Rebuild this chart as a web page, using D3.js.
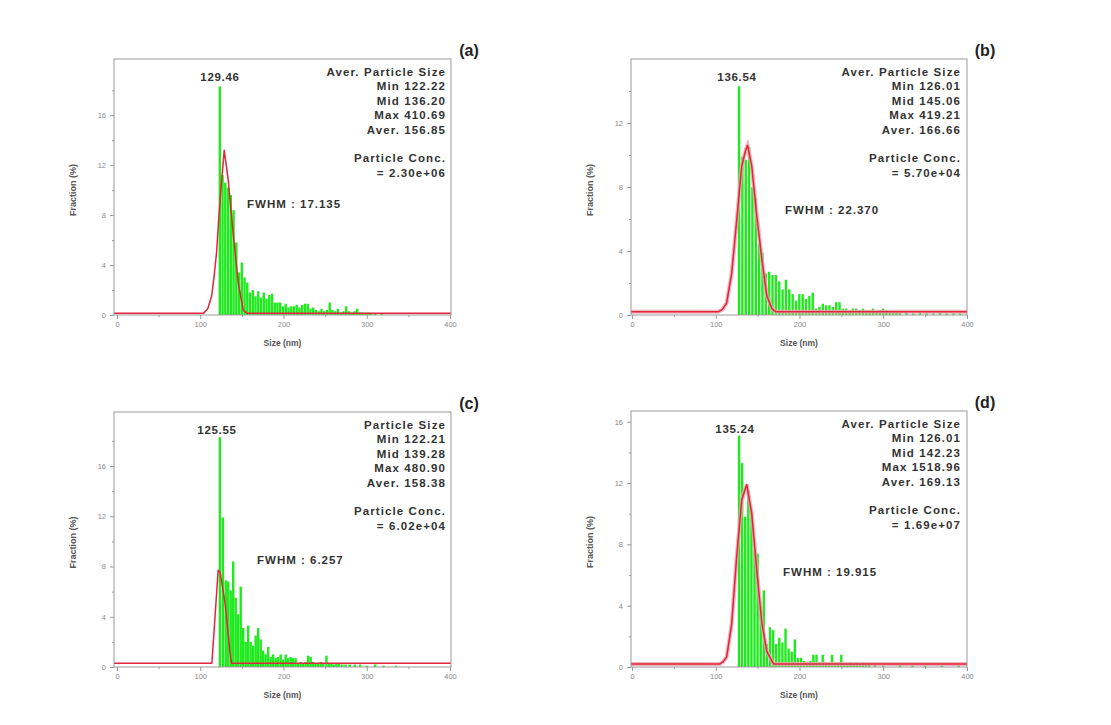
<!DOCTYPE html>
<html><head><meta charset="utf-8">
<script src="https://cdn.jsdelivr.net/npm/d3@7/dist/d3.min.js"></script>
<style>
body{margin:0;background:#fff;}
svg{display:block;}
text{font-family:"Liberation Sans",Arial,sans-serif;}
</style></head>
<body><svg id="c" width="1111" height="725"></svg>
<script>
// ---------- DATA ----------
const panelLabels = ["(a)", "(b)", "(c)", "(d)"];
const peakLabels = ["129.46", "136.54", "125.55", "135.24"];
const fwhmLabels = ["FWHM : 17.135", "FWHM : 22.370", "FWHM : 6.257", "FWHM : 19.915"];
const statsA = ["Aver. Particle Size", "Min 122.22", "Mid 136.20", "Max 410.69", "Aver. 156.85", "", "Particle Conc.", "= 2.30e+06"];
const statsB = ["Aver. Particle Size", "Min 126.01", "Mid 145.06", "Max 419.21", "Aver. 166.66", "", "Particle Conc.", "= 5.70e+04"];
const statsC = ["Particle Size", "Min 122.21", "Mid 139.28", "Max 480.90", "Aver. 158.38", "", "Particle Conc.", "= 6.02e+04"];
const statsD = ["Aver. Particle Size", "Min 126.01", "Mid 142.23", "Max 1518.96", "Aver. 169.13", "", "Particle Conc.", "= 1.69e+07"];
const xTicks = [0, 100, 200, 300, 400];
const yTicksA = [0, 4, 8, 12, 16];
const yTicksB = [0, 4, 8, 12];
const yTicksC = [0, 4, 8, 12, 16];
const yTicksD = [0, 4, 8, 12, 16];
const yMaxA = 20.5, yMaxB = 16, yMaxC = 20.3, yMaxD = 16.7;

// histogram bars: size (nm) and fraction (%)
const sizesA = [123.5,126.8,130.1,133.4,136.7,140,143.3,146.6,149.9,153.2,156.5,159.8,163.1,166.4,169.7,173,176.3,179.6,182.9,186.2,189.5,192.8,196.1,199.4,202.7,206,209.3,212.6,215.9,219.2,222.5,225.8,229.1,232.4,235.7,239,242.3,245.6,248.9,252.2,255.5,258.8,262.1,265.4,268.7,272,275.3,278.6,281.9,285.2,288.5,291.8,295.1,298.4,301.7,305,310,318];
const fracA  = [18.3,11.2,10.6,10.2,9.6,8.4,5.8,3.4,4.2,3.0,2.6,1.8,2.0,1.5,1.9,1.4,1.8,1.3,1.6,1.7,1.0,1.0,1.0,0.7,0.9,0.6,0.7,0.7,0.8,0.6,0.8,0.9,0.9,0.5,0.6,0.4,0.3,0.5,0.3,0.4,1.0,0.4,0.3,0.5,0.2,0.3,0.7,0.3,0.2,0.3,0.5,0.2,0.2,0.1,0.2,0.1,0.1,0.1];
const sizesB = [127.8,131.8,135.8,139.8,143.8,147.8,151.8,155.8,159.8,163.8,167.8,171.8,175.8,179.8,183.8,187.8,191.8,195.8,199.8,203.8,207.8,211.8,215.8,219.8,223.8,227.8,231.8,235.8,239.8,243.8,247.8,251.8,255.8,259.8,263.8,267.8,271.8,275.8,279.8,283.8,287.8,291.8,295.8,299.8,303.8,307.8,311.8,315.8,319.8,327.8,335.8,343.8,351.8,359.8,367.8,375.8,383.8,391.8];
const fracB  = [14.3,9.9,9.7,10.5,8.0,7.3,4.4,3.9,2.6,2.7,2.5,2.5,2.1,1.6,2.2,1.6,1.3,0.9,1.3,1.3,1.0,1.2,1.4,0.4,0.5,0.7,0.6,0.6,0.5,0.8,0.8,0.4,0.4,0.3,0.4,0.4,0.3,0.4,0.3,0.3,0.4,0.2,0.3,0.4,0.3,0.2,0.2,0.2,0.2,0.2,0.1,0.2,0.1,0.1,0.2,0.1,0.1,0.1];
const sizesC = [123.6,127.2,130.6,133.6,136.6,139.6,142.6,145.6,148.6,151.6,154.6,157.6,160.6,163.6,166.6,169.6,172.6,175.6,178.6,181.6,184.6,187.6,190.6,193.6,196.6,199.6,202.6,205.6,208.6,211.6,214.6,217.6,220.6,223.6,226.6,229.6,232.6,235.6,238.6,241.6,244.6,247.6,251.6,254.6,257.6,260.6,263.6,266.6,270.6,274.6,279.6,285.6,292,300,310,320,335];
const fracC  = [18.3,11.9,6.9,6.8,6.1,8.4,5.5,4.2,6.4,3.1,2.0,3.3,2.0,1.7,2.5,3.1,2.2,1.3,1.0,1.6,0.8,1.0,0.7,0.8,1.0,0.6,1.0,0.7,0.8,0.7,0.7,0.3,0.4,0.3,0.4,0.9,0.8,0.4,0.3,0.3,0.4,0.3,0.9,0.3,0.3,0.2,0.3,0.3,0.2,0.2,0.2,0.2,0.2,0.1,0.2,0.1,0.1];
const sizesD = [127.8,131.5,135.2,138.9,142.6,146.3,150,153.7,157.4,161.1,164.8,168.5,172.2,175.9,179.6,183.3,187,190.7,194.4,198.1,201.8,205.5,209.2,212.9,216.6,220.3,224,227.7,231.4,235.1,238.8,242.5,246.2,249.9,253.6,257.3,261,264.7,268.4,272.1,275.8,279.5,283.2,290,300,320,335,350,370,390];
const fracD  = [15.1,13.3,9.8,11.5,10.2,7.6,7.4,4.0,5.0,1.5,2.6,2.4,1.5,1.9,1.6,2.5,1.2,1.0,1.8,0.6,0.6,0.4,0.3,0.4,0.8,0.8,0.3,0.8,0.3,0.3,0.8,0.3,0.3,0.8,0.3,0.2,0.3,0.2,0.3,0.2,0.3,0.2,0.2,0.2,0.1,0.15,0.1,0.1,0.1,0.1];

// fitted curves (red)
const fitXA = [-3.6,104,109,113.6,116.5,119.6,122,124.8,128.8,133.6,139.6,145.6,151.6,155.6,401];
const fitYA = [0.15,0.15,0.5,1.5,3.0,5.0,7.5,10.0,13.2,10.8,6.5,2.6,0.4,0.15,0.15];
const fitXB = [-1.2,103,108,113,119,125,131,135.7,138,143,149,155,161,167,172,400];
const fitYB = [0.2,0.2,0.35,0.75,2.6,5.9,9.3,10.3,10.6,9.3,6.2,3.5,1.2,0.4,0.2,0.2];
const fitXC = [-3.6,114,121.5,124,130,135.5,137.5,401];
const fitYC = [0.3,0.3,7.7,7.5,5.0,1.3,0.3,0.3];
const fitXD = [-1.2,105,109,113,119,125,131,137,143,149,155,161,169,400];
const fitYD = [0.2,0.2,0.35,0.65,2.8,7.2,10.9,11.9,10.0,6.3,2.9,1.0,0.2,0.2];

// ---------- LAYOUT ----------
const svg = d3.select("#c");
svg.append("rect").attr("width",1111).attr("height",725).attr("fill","#fff");

const panels = [
  {box:[114,451,59,315], xd:[-3.6,401.2], ymax:yMaxA, yt:yTicksA, sizes:sizesA, frac:fracA, fx:fitXA, fy:fitYA, stats:statsA, pink:false},
  {box:[631,967,59,315], xd:[-1.2,400], ymax:yMaxB, yt:yTicksB, sizes:sizesB, frac:fracB, fx:fitXB, fy:fitYB, stats:statsB, pink:true},
  {box:[114,451,412,667], xd:[-3.6,401.2], ymax:yMaxC, yt:yTicksC, sizes:sizesC, frac:fracC, fx:fitXC, fy:fitYC, stats:statsC, pink:false},
  {box:[631,967,411,667], xd:[-1.2,400], ymax:yMaxD, yt:yTicksD, sizes:sizesD, frac:fracD, fx:fitXD, fy:fitYD, stats:statsD, pink:true}
];

panels.forEach((p,i)=>{
  const [x0,x1,y0,y1] = p.box;
  const x = d3.scaleLinear().domain(p.xd).range([x0,x1]);
  const y = d3.scaleLinear().domain([0,p.ymax]).range([y1,y0]);
  const g = svg.append("g");

  // bars
  const bw = 2.4;
  g.selectAll("rect.bar").data(p.sizes.map((s,k)=>[s,p.frac[k]])).enter().append("rect")
    .attr("x", d=>x(d[0])-bw/2).attr("width", bw)
    .attr("y", d=>y(d[1])).attr("height", d=>y(0)-y(d[1]))
    .attr("fill","#1eea1e");

  // fit curve
  const pts = p.fx.map((v,k)=>[v,p.fy[k]]);
  const line = d3.line().x(d=>x(d[0])).y(d=>y(d[1]));
  if(p.pink){
    g.append("path").datum(pts).attr("d",line).attr("fill","none")
      .attr("stroke","#eba3ad").attr("stroke-width",4).attr("stroke-opacity",0.8);
  }
  g.append("path").datum(pts).attr("d",line).attr("fill","none")
    .attr("stroke","#e4243c").attr("stroke-width",1.5).attr("stroke-linejoin","round");

  // frame
  g.append("rect").attr("x",x0).attr("y",y0).attr("width",x1-x0).attr("height",y1-y0)
    .attr("fill","none").attr("stroke","#9a9a9a").attr("stroke-width",1);

  // axes
  g.append("g").attr("transform",`translate(0,${y1})`)
    .call(d3.axisBottom(x).tickValues(xTicks).tickSize(4).tickPadding(3).tickFormat(d3.format("d")));
  g.append("g").attr("transform",`translate(0,${y1})`)
    .call(d3.axisBottom(x).tickValues([50,150,250,350]).tickSize(2).tickFormat(""));
  g.append("g").attr("transform",`translate(${x0},0)`)
    .call(d3.axisLeft(y).tickValues(p.yt).tickSize(4).tickPadding(4).tickFormat(d3.format("d")));
  const minor = d3.range(2, p.ymax, 4);
  g.append("g").attr("transform",`translate(${x0},0)`)
    .call(d3.axisLeft(y).tickValues(minor).tickSize(2).tickFormat(""));
  g.selectAll(".domain").remove();
  g.selectAll(".tick line").attr("stroke","#9a9a9a");
  g.selectAll(".tick text").attr("fill","#8a8a8a").attr("font-size",7.5);

  // axis titles
  g.append("text").attr("x",(x0+x1)/2).attr("y",y1+31).attr("text-anchor","middle")
    .attr("font-size",8.5).attr("font-weight","bold").attr("fill","#555")
    .attr("font-family","Liberation Serif, serif").text("Size (nm)");
  g.append("text").attr("transform",`translate(${x0-38},${(y0+y1)/2+3}) rotate(-90)`)
    .attr("text-anchor","middle").attr("font-size",9).attr("font-weight","bold").attr("fill","#555")
    .attr("font-family","Liberation Serif, serif").text("Fraction (%)");

  // panel label
  g.append("text").attr("x",x1+18).attr("y",y0-3).attr("text-anchor","middle")
    .attr("font-size",16).attr("font-weight","bold").attr("fill","#222").text(panelLabels[i]);

  // peak label
  const peakX = [220,737,217,735][i];
  g.append("text").attr("x",peakX).attr("y",y0+22).attr("text-anchor","middle")
    .attr("font-size",11.5).attr("font-weight","bold").attr("letter-spacing",0.7)
    .attr("fill","#333").text(peakLabels[i]);

  // stats
  const sx = [446,961,446,961][i];
  p.stats.forEach((t,k)=>{
    if(!t) return;
    g.append("text").attr("x",sx).attr("y",y0+17+k*14.4).attr("text-anchor","end")
      .attr("font-size",11.5).attr("font-weight","bold").attr("letter-spacing",1.1)
      .attr("fill","#333").text(t);
  });

  // FWHM
  const fpos = [[247,208],[785,214],[257,564],[783,576]][i];
  g.append("text").attr("x",fpos[0]).attr("y",fpos[1]).attr("font-size",11.5)
    .attr("font-weight","bold").attr("letter-spacing",1.0)
    .attr("fill","#333").text(fwhmLabels[i]);
});
</script></body></html>
